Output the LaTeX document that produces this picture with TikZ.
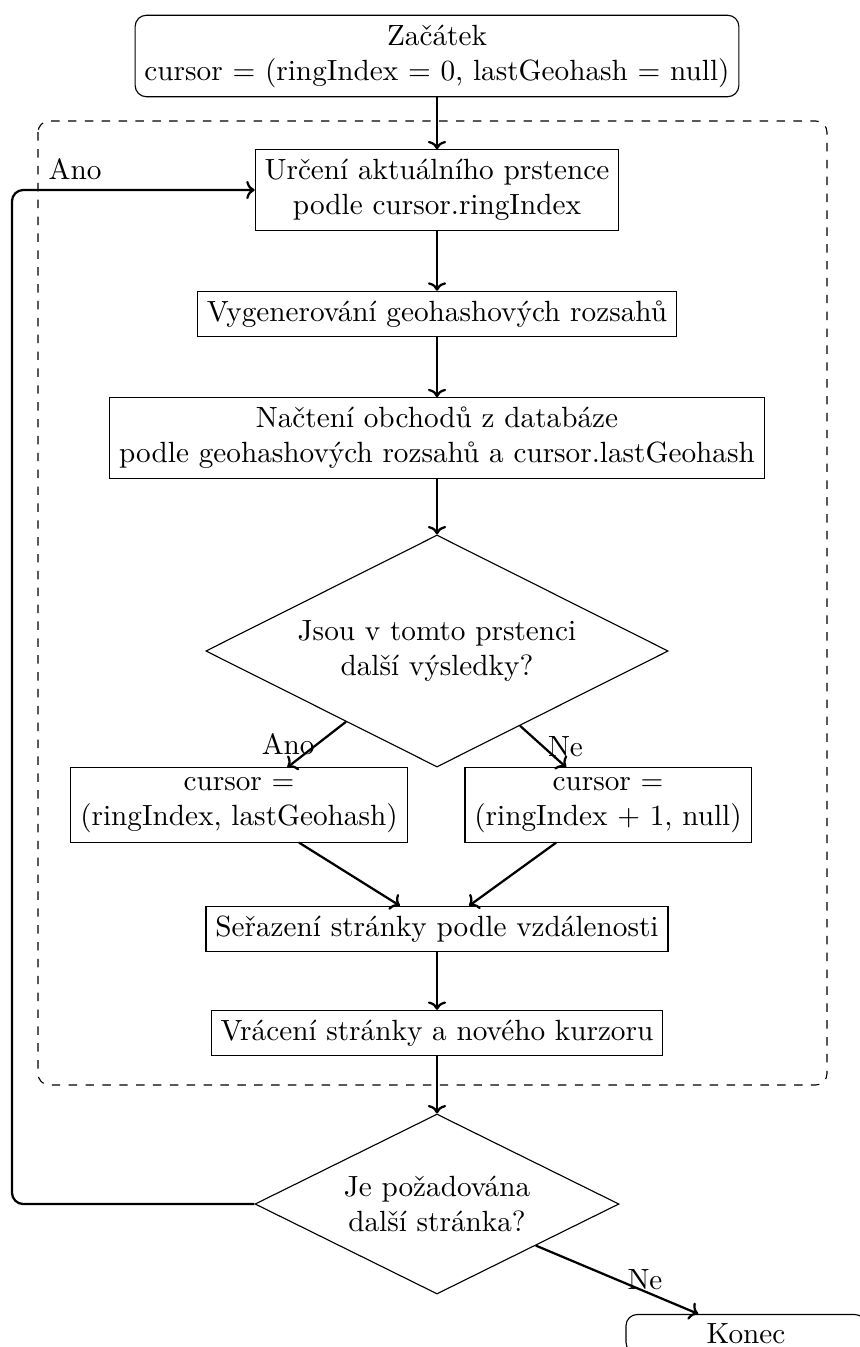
\documentclass[tikz,border=0pt]{standalone}
\usetikzlibrary{positioning,shapes.geometric,backgrounds,arrows.meta}

\begin{document}
\begin{tikzpicture}[font=\fontsize{10.4}{12.45}\selectfont,
    krok/.style={draw,align=center},
    okraj/.style={draw,rounded corners,align=center},
    rozhodnuti/.style={draw,diamond,aspect=2,align=center,inner sep=1pt},
    sipka/.style={-{To[length=3pt,width=6.5pt]},thick}]
\useasboundingbox (-5.4625,0) rectangle (5.2875,-16.8375);
\coordinate (smycka) at (-5.3125,0);
\path (0,-0.70) node[okraj] (zacatek)
    {Začátek\\cursor = (ringIndex = 0, lastGeohash = null)};
\path (0,-2.375) node[krok] (prstenec)
    {Určení aktuálního prstence\\podle cursor.ringIndex}
   +(0,-1.55) node[krok] (rozsahy) {Vygenerování geohashových rozsahů}
   +(0,-3.10) node[krok] (nacteni)
    {Načtení obchodů z databáze\\podle geohashových rozsahů a cursor.lastGeohash};
\path (0,-8.1375) node[rozhodnuti,minimum width=5.78cm,minimum height=2.9cm] (vysledky)
    {Jsou v tomto prstenci\\další výsledky?}
   +(-2.475,-1.925) node[krok] (ano) {cursor =\\(ringIndex, lastGeohash)}
   +(2.1375,-1.925) node[krok] (ne) {cursor =\\(ringIndex + 1, null)};
\path (0,-11.6125) node[krok] (serazeni) {Seřazení stránky podle vzdálenosti}
   +(0,-1.3) node[krok] (vraceni) {Vrácení stránky a nového kurzoru};
\path (0,-15.05) node[rozhodnuti,minimum width=4.55cm,minimum height=2.25cm] (dalsi)
    {Je požadována\\další stránka?}
   +(3.8625,-1.625) node[okraj,minimum width=3cm] (konec) {Konec};
\begin{scope}[on background layer]
\draw[dashed,rounded corners] (-4.9875,-1.5125) rectangle (4.875,-13.5625);
\end{scope}
\draw[sipka] (zacatek) -- (prstenec);
\draw[sipka] (prstenec) -- (rozsahy);
\draw[sipka] (rozsahy) -- (nacteni);
\draw[sipka] (nacteni) -- (vysledky);
\draw[sipka] (vysledky) -- node[left,xshift=3pt] {Ano} (ano);
\draw[sipka] (vysledky) -- node[right,xshift=-2pt] {Ne} (ne);
\draw[sipka] (ano) -- (serazeni);
\draw[sipka] (ne) -- (serazeni);
\draw[sipka] (serazeni) -- (vraceni);
\draw[sipka] (vraceni) -- (dalsi);
\draw[sipka] (dalsi) -- node[right] {Ne} (konec);
\draw[sipka,rounded corners] (dalsi.west) -- (dalsi.west -| smycka)
   -- (prstenec.west -| smycka) -- node[above,pos=0.26] {Ano} (prstenec.west);
\end{tikzpicture}
\end{document}
